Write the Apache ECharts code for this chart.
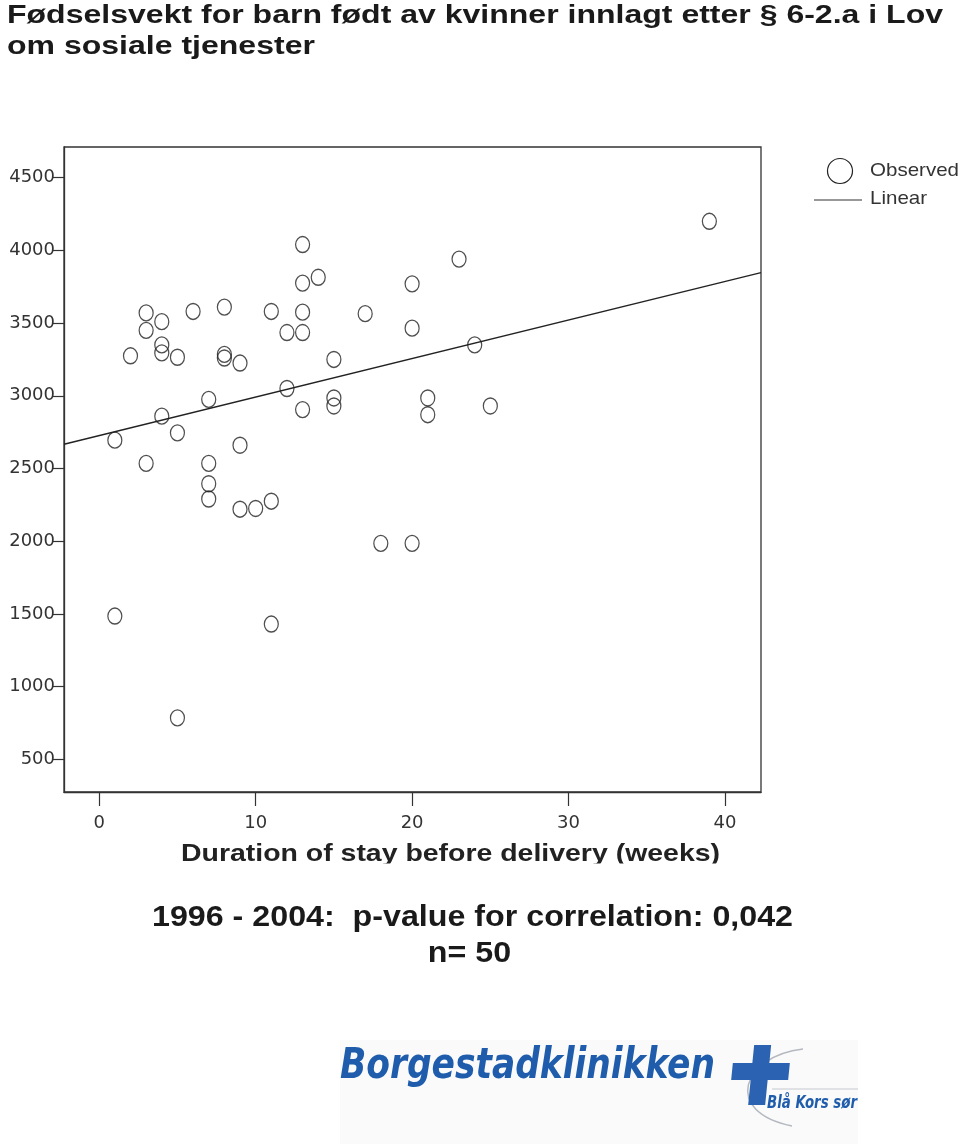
<!DOCTYPE html>
<html>
<head>
<meta charset="utf-8">
<script src="https://cdn.jsdelivr.net/npm/echarts@6/dist/echarts.min.js"></script>
<style>
html,body{margin:0;padding:0;background:#fff;}
#chart{width:960px;height:1144px;}
</style>
</head>
<body>
<div id="chart"></div>
<script>
// ---- data ----
var weeks   = [1, 1, 2, 3, 3, 3, 4, 4, 4, 4, 5, 5, 5, 6, 7, 7, 7, 7, 8, 8, 8, 9, 9, 9, 10, 11, 11, 11, 12, 12, 13, 13, 13, 13, 13, 14, 15, 15, 15, 17, 18, 20, 20, 20, 21, 21, 23, 24, 25, 39];
var weights = [2695, 1485, 3275, 3570, 3450, 2535, 3510, 3350, 3295, 2860, 3265, 2745, 785, 3580, 2975, 2535, 2395, 2290, 3610, 3285, 3260, 3225, 2660, 2220, 2225, 3580, 2275, 1430, 3435, 3050, 4040, 3775, 3575, 3435, 2905, 3815, 3250, 2985, 2930, 3565, 1985, 3770, 3465, 1985, 2985, 2870, 3940, 3350, 2930, 4200];
var fitIntercept = 2726;   // linear fit at 0 weeks
var fitSlope = 26.5;       // grams per week
var xTicks = [0, 10, 20, 30, 40];
var yTicks = [500, 1000, 1500, 2000, 2500, 3000, 3500, 4000, 4500];
var xRange = [-2.25, 42.3];
var yRange = [275, 4711];

var titleLines = ['Fødselsvekt for barn født av kvinner innlagt etter § 6-2.a i Lov', 'om sosiale tjenester'];
var xAxisTitle = 'Duration of stay before delivery (weeks)';
var statLines = ['1996 - 2004:  p-value for correlation: 0,042', 'n= 50'];
var legendNames = ['Observed', 'Linear'];

// ---- helpers ----
var mctx = document.createElement('canvas').getContext('2d');
function fitScale(text, font, w) { mctx.font = font; return w / mctx.measureText(text).width; }

var points = weeks.map(function (w, i) { return [w, weights[i]]; });
var fitLine = [
  [xRange[0], fitIntercept + fitSlope * xRange[0]],
  [xRange[1], fitIntercept + fitSlope * xRange[1]]
];

var fTitle = 'bold 26px "Liberation Sans", Arial, sans-serif';
var sTitle = fitScale(titleLines[0], fTitle, 936);
var fStat = 'bold 30px "Liberation Sans", Arial, sans-serif';
var sStat = fitScale(statLines[0], fStat, 641);
var fXName = 'bold 24px "Liberation Sans", Arial, sans-serif';
var sXName = fitScale(xAxisTitle, fXName, 539);
var fLeg = '19px "Liberation Sans", Arial, sans-serif';
var sLeg = fitScale(legendNames[0], fLeg, 89);
var fLogo = 'italic bold 42px "Liberation Sans Narrow", "DejaVu Sans Condensed", sans-serif';
var sLogo = fitScale('Borgestadklinikken', fLogo, 375);
var fLogo2 = 'italic bold 18px "Liberation Sans Narrow", "DejaVu Sans Condensed", sans-serif';
var sLogo2 = fitScale('Blå Kors sør', fLogo2, 90);

function txt(text, x, y, font, scale, align, fill) {
  return {
    type: 'text', x: x, y: y, scaleX: scale, z: 100,
    style: { text: text, font: font, fill: fill || '#1a1a1a', align: align, textAlign: align,
             verticalAlign: 'middle', textVerticalAlign: 'middle' }
  };
}

// slanted cross for logo
var crossRaw = [[751.5,1045],[768.5,1045],[768.5,1063],[789,1063],[789,1080],[768.5,1080],[768.5,1105],[751.5,1105],[751.5,1080],[732,1080],[732,1063],[751.5,1063]];
var cross = crossRaw.map(function (p) { return [p[0] + (1071.5 - p[1]) * 0.1, p[1]]; });
var logoBlue = '#1f5dac';

var chart = echarts.init(document.getElementById('chart'), null, { renderer: 'canvas' });
chart.setOption({
  backgroundColor: '#ffffff',
  animation: false,
  grid: { left: 64, top: 147, width: 697, height: 645, show: true, borderColor: '#333', borderWidth: 1.3, backgroundColor: 'transparent' },
  xAxis: {
    type: 'value', min: xRange[0], max: xRange[1],
    axisLine: { show: true, onZero: false, lineStyle: { color: '#333', width: 1.3 } },
    axisTick: { show: true, length: 14, lineStyle: { color: '#333', width: 1.2 }, customValues: xTicks },
    axisLabel: { show: true, margin: 22, color: '#333', fontSize: 18, fontFamily: 'DejaVu Sans', customValues: xTicks,
                 formatter: function (v) { return String(v); } },
    splitLine: { show: false }
  },
  yAxis: {
    type: 'value', min: yRange[0], max: yRange[1],
    axisLine: { show: true, onZero: false, lineStyle: { color: '#333', width: 1.3 } },
    axisTick: { show: true, length: 12, lineStyle: { color: '#333', width: 1.2 }, customValues: yTicks },
    axisLabel: { show: true, margin: 9, color: '#333', fontSize: 18, fontFamily: 'DejaVu Sans', customValues: yTicks,
                 formatter: function (v) { return String(v); } },
    splitLine: { show: false }
  },
  series: [
    {
      name: legendNames[1], type: 'line', data: fitLine, symbol: 'none', silent: true, z: 2,
      lineStyle: { color: '#222', width: 1.4 }
    },
    {
      name: legendNames[0], type: 'scatter', data: points, symbol: 'circle', symbolSize: [14, 16], z: 3,
      itemStyle: { color: 'rgba(255,255,255,0)', borderColor: '#222', borderWidth: 1.3 }
    }
  ],
  graphic: { elements: [
    txt(titleLines[0], 7, 16, fTitle, sTitle, 'left'),
    txt(titleLines[1], 7, 46.5, fTitle, sTitle, 'left'),
    txt(xAxisTitle, 450.5, 854, fXName, sXName, 'center', '#222'),
    { type: 'rect', z: 101, shape: { x: 150, y: 863.5, width: 620, height: 20 }, style: { fill: '#ffffff' } },
    txt(statLines[0], 472.5, 917.5, fStat, sStat, 'center'),
    txt(statLines[1], 469.5, 954, fStat, sStat, 'center'),
    // legend
    { type: 'circle', z: 100, shape: { cx: 840, cy: 171, r: 12.5 }, style: { fill: 'none', stroke: '#222', lineWidth: 1.2 } },
    { type: 'line', z: 100, shape: { x1: 814, y1: 200, x2: 862, y2: 200 }, style: { stroke: '#333', lineWidth: 1.2 } },
    txt(legendNames[0], 870, 171, fLeg, sLeg, 'left', '#333'),
    txt(legendNames[1], 870, 199, fLeg, sLeg, 'left', '#333'),
    // logo
    { type: 'rect', z: 90, shape: { x: 340, y: 1040, width: 518, height: 104 }, style: { fill: '#fafafa' } },
    txt('Borgestadklinikken', 340, 1067, fLogo, sLogo, 'left', logoBlue),
    { type: 'bezierCurve', z: 99, shape: { x1: 803, y1: 1049, cpx1: 742, cpy1: 1056, cpx2: 722, cpy2: 1112, x2: 792, y2: 1126 }, style: { fill: 'none', stroke: '#b4b8c0', lineWidth: 1.5 } },
    { type: 'line', z: 99, shape: { x1: 772, y1: 1089, x2: 858, y2: 1089 }, style: { stroke: '#c4c8ce', lineWidth: 1.2 } },
    { type: 'polygon', z: 100, shape: { points: cross }, style: { fill: '#2c62b2' } },
    txt('Blå Kors sør', 767, 1103, fLogo2, sLogo2, 'left', logoBlue)
  ]}
});
</script>
</body>
</html>
